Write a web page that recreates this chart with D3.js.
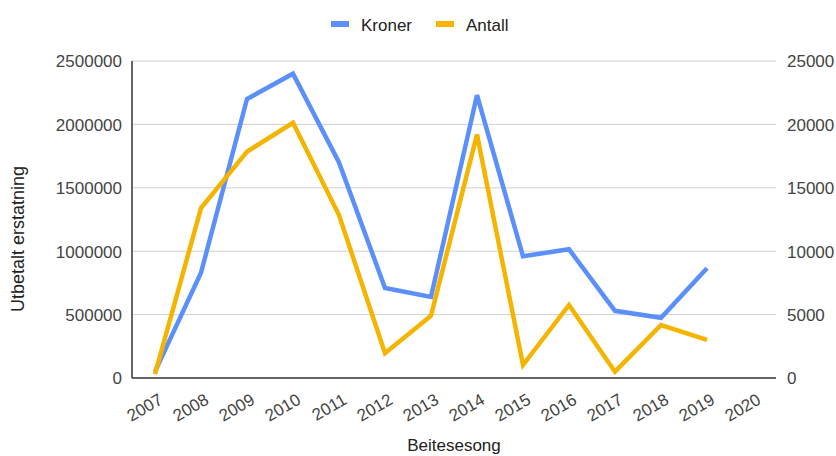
<!DOCTYPE html>
<html><head><meta charset="utf-8">
<script src="https://cdn.jsdelivr.net/npm/d3@7"></script>
<style>body{margin:0;background:#fff;font-family:Arial,"Liberation Sans",sans-serif;}</style>
</head><body><svg id="c" width="836" height="456"></svg>
<script>
const years = ["2007","2008","2009","2010","2011","2012","2013","2014","2015","2016","2017","2018","2019","2020"];
const kroner = [50000,830000,2200000,2400000,1700000,710000,640000,2230000,960000,1015000,530000,475000,865000,null];
const antall = [300,13400,17850,20130,12850,1950,4910,19200,1025,5760,500,4180,3000,null];
const leftTicks = [0,500000,1000000,1500000,2000000,2500000];
const rightTicks = [0,5000,10000,15000,20000,25000];

const FONT = "Arial, 'Liberation Sans', sans-serif";
const svg = d3.select("#c");
const L=132,R=776,T=61,B=378;
const x = d3.scaleBand().domain(years).range([L,R]).padding(0);
const yl = d3.scaleLinear().domain([0,2500000]).range([B,T]);
const yr = d3.scaleLinear().domain([0,25000]).range([B,T]);
const cx = d => x(d)+x.bandwidth()/2;

// grid
svg.append("g").selectAll("line").data(leftTicks.slice(1)).join("line")
  .attr("x1",L).attr("x2",R).attr("y1",d=>yl(d)).attr("y2",d=>yl(d))
  .attr("stroke","#d0d0d0").attr("stroke-width",1);

// left axis labels
const la = svg.append("g").attr("transform",`translate(${L},0)`)
  .call(d3.axisLeft(yl).tickValues(leftTicks).tickFormat(d3.format("d")).tickSize(0).tickPadding(10));
la.select(".domain").remove();
la.selectAll("text").attr("font-size",17).attr("fill","#444").attr("font-family",FONT).attr("dy","0.35em");

const ra = svg.append("g").attr("transform",`translate(${R},0)`)
  .call(d3.axisRight(yr).tickValues(rightTicks).tickFormat(d3.format("d")).tickSize(0).tickPadding(11));
ra.select(".domain").remove();
ra.selectAll("text").attr("font-size",17).attr("fill","#444").attr("font-family",FONT).attr("dy","0.35em");

// x axis
const xa = svg.append("g").attr("transform",`translate(0,${B})`)
  .call(d3.axisBottom(x).tickSize(0).tickPadding(0));
xa.select(".domain").remove();
xa.selectAll("text").attr("font-size",17).attr("fill","#444").attr("font-family",FONT)
  .attr("text-anchor","end").attr("dy",0)
  .attr("transform","translate(9,25) rotate(-30)");

// axis lines
svg.append("line").attr("x1",L).attr("x2",L).attr("y1",T).attr("y2",B).attr("stroke","#333").attr("stroke-width",1.5);
svg.append("line").attr("x1",L).attr("x2",R).attr("y1",B).attr("y2",B).attr("stroke","#333").attr("stroke-width",1.5);

// lines
const lineL = d3.line().defined(d=>d[1]!=null).x(d=>cx(d[0])).y(d=>yl(d[1]));
const lineR = d3.line().defined(d=>d[1]!=null).x(d=>cx(d[0])).y(d=>yr(d[1]));
svg.append("path").datum(years.map((y,i)=>[y,kroner[i]])).attr("d",lineL)
  .attr("fill","none").attr("stroke","#5b8ff9").attr("stroke-width",4.5).attr("stroke-linejoin","miter");
svg.append("path").datum(years.map((y,i)=>[y,antall[i]])).attr("d",lineR)
  .attr("fill","none").attr("stroke","#f4b400").attr("stroke-width",4.5).attr("stroke-linejoin","miter");

// legend
const leg = [{n:"Kroner",c:"#5b8ff9",x:331},{n:"Antall",c:"#f4b400",x:436}];
leg.forEach(l=>{
  svg.append("rect").attr("x",l.x).attr("y",21).attr("width",18).attr("height",6).attr("fill",l.c);
  svg.append("text").attr("x",l.x+30).attr("y",31).text(l.n).attr("font-size",17).attr("fill","#222").attr("font-family",FONT);
});

// titles
svg.append("text").attr("transform","translate(24,239) rotate(-90)").attr("text-anchor","middle")
  .attr("font-size",18).attr("fill","#222").attr("font-family",FONT).text("Utbetalt erstatning");
svg.append("text").attr("x",454).attr("y",451).attr("text-anchor","middle")
  .attr("font-size",17).attr("fill","#222").attr("font-family",FONT).text("Beitesesong");
</script></body></html>
